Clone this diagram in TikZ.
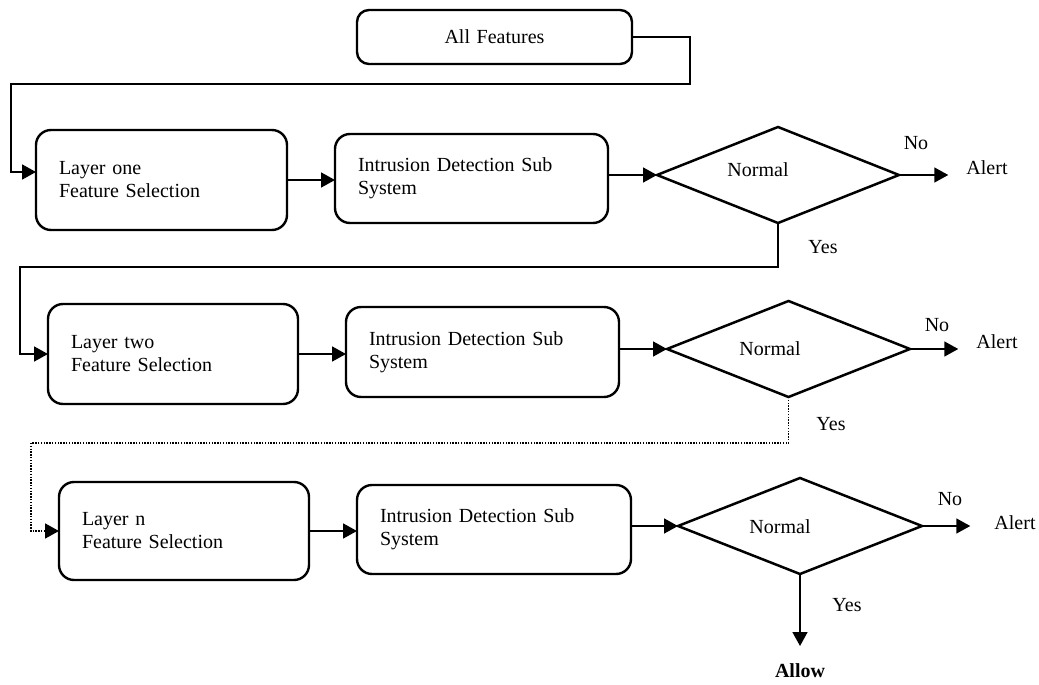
\documentclass[tikz,border=0pt]{standalone}
\usepackage{fontspec}
\setmainfont{Liberation Serif}
\usetikzlibrary{arrows.meta,shapes.geometric}
\begin{document}
\begin{tikzpicture}[x=1pt,y=-1pt,
  font=\fontsize{20}{23}\selectfont,
  box/.style={draw,line width=2.4pt,rounded corners=15pt,align=left,
              inner xsep=23pt,inner ysep=0pt,outer sep=0pt},
  dec/.style={draw,diamond,line width=2.5pt,inner sep=0pt,outer sep=0pt,
              minimum height=96pt},
  conn/.style={line width=1.7pt},
  arr/.style={conn,-{Triangle[length=14pt,width=15pt]}},
  dots/.style={dash pattern=on 1.4pt off 1.4pt},
  lbl/.style={inner sep=0pt}
]
\useasboundingbox (0,0) rectangle (1039,685);

% input box
\node[box,align=center,text width=229pt,minimum height=54pt,rounded corners=12pt]
  (af) at (494.5,37) {All Features};

% layer one
\node[box,text width=205pt,minimum height=100pt] (l1) at (161.5,180)
  {Layer one\\Feature Selection};
\node[box,text width=227pt,minimum height=89pt] (ids1) at (471.5,178.5)
  {Intrusion Detection Sub\\System};
\node[dec,minimum width=242pt] (d1) at (778,175) {};
\node[lbl] (n1) at (758,170) {Normal};
\node[lbl] (al1) at (987,168) {Alert};
\node[lbl] (no1) at (916,143) {No};
\node[lbl] (yes1) at (823,247) {Yes};

% layer two
\node[box,text width=204pt,minimum height=100pt] (l2) at (173,354)
  {Layer two\\Feature Selection};
\node[box,text width=227pt,minimum height=90pt] (ids2) at (482.5,352)
  {Intrusion Detection Sub\\System};
\node[dec,minimum width=243pt] (d2) at (788.5,349) {};
\node[lbl] (n2) at (770,349) {Normal};
\node[lbl] (al2) at (997,342) {Alert};
\node[lbl] (no2) at (937,325) {No};
\node[lbl] (yes2) at (831,424) {Yes};

% layer n
\node[box,text width=204pt,minimum height=98pt] (l3) at (184,531)
  {Layer n\\Feature Selection};
\node[box,text width=228pt,minimum height=89pt] (ids3) at (494,529.5)
  {Intrusion Detection Sub\\System};
\node[dec,minimum width=244pt] (d3) at (800,526) {};
\node[lbl] (n3) at (780,527) {Normal};
\node[lbl] (al3) at (1015,523) {Alert};
\node[lbl] (no3) at (950,499) {No};
\node[lbl] (yes3) at (847,605) {Yes};
\node[lbl,font=\fontsize{20}{23}\selectfont\bfseries] (allow) at (800,671) {Allow};

% turning points of the feedback lines
\coordinate (t1) at (690,84);
\coordinate (t2) at (11,84);
\coordinate (t3) at (20,267);
\coordinate (t4) at (31,443);
\coordinate (end3) at (800,646);

% connectors
\draw[arr] (af.east) -| (t1) -- (t2) |- ([yshift=8pt]l1.west);

\draw[arr] (l1.east) -- (l1.east -| ids1.west);
\draw[arr] (ids1.east |- d1.west) -- (d1.west);
\draw[arr,shorten >=18pt] (d1.east) -- (d1.east -| al1.west);
\draw[arr] (d1.south) |- (t3) |- (l2.west);

\draw[arr] (l2.east) -- (l2.east -| ids2.west);
\draw[arr] (ids2.east |- d2.west) -- (d2.west);
\draw[arr,shorten >=18pt] (d2.east) -- (d2.east -| al2.west);
\draw[arr,dots] (d2.south) |- (t4) |- (l3.west);

\draw[arr] (l3.east) -- (l3.east -| ids3.west);
\draw[arr] (ids3.east |- d3.west) -- (d3.west);
\draw[arr,shorten >=24pt] (d3.east) -- (d3.east -| al3.west);
\draw[arr] (d3.south) -- (end3);
\end{tikzpicture}
\end{document}
